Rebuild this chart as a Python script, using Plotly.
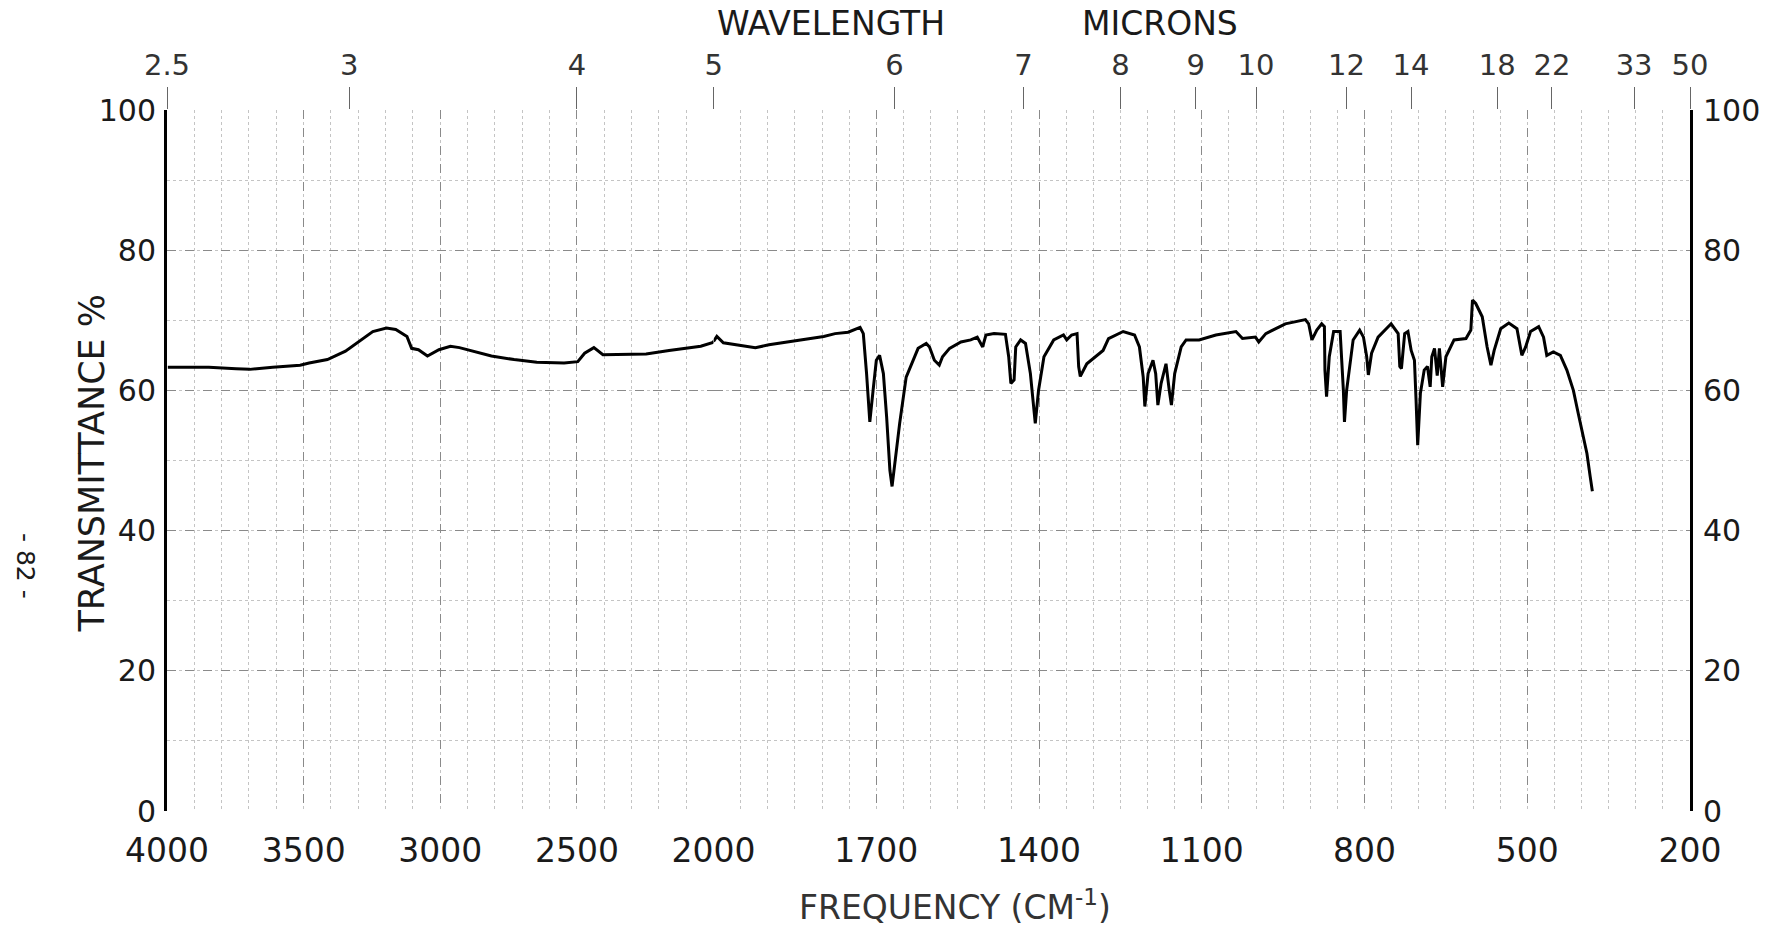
import plotly.graph_objects as go

# ---- data ----
wavenumber = [
    3997, 3847, 3747, 3697, 3613, 3513, 3480, 3413, 3347, 3297, 3247, 3197, 3163, 3122,
    3105, 3080, 3047, 3005, 2963, 2930, 2880, 2813, 2730, 2647, 2547, 2497, 2472, 2438,
    2405, 2330, 2247, 2163, 2047, 2005, 2000,
    1994, 1982, 1923, 1898, 1856, 1797, 1776, 1752, 1730, 1724, 1718, 1712, 1706, 1700,
    1694, 1687, 1681, 1675, 1671, 1666, 1657, 1645, 1632, 1623, 1608, 1602, 1593, 1584,
    1578, 1565, 1544, 1526, 1514, 1504, 1498, 1483, 1462, 1456, 1452, 1446, 1443, 1434,
    1425, 1416, 1407, 1401, 1391, 1373, 1355, 1349, 1340, 1330, 1327, 1324, 1312, 1294,
    1282, 1272, 1245, 1224, 1215, 1208, 1205, 1199, 1190, 1185, 1181, 1175, 1166, 1160,
    1156, 1150, 1138, 1129, 1105, 1074, 1037, 1025, 1001, 995, 982, 946, 909, 903,
    897, 888, 879, 874, 873, 870, 865, 857, 845, 839, 837, 833, 821, 809, 802, 796,
    793, 787, 775, 751, 738, 735, 732, 726, 720, 714, 708, 705, 702, 697, 690, 684,
    679, 676, 671, 666, 662, 656, 650, 635, 613, 604, 601, 595, 589, 583, 574, 567,
    561, 549, 534, 519, 510, 503, 494, 479, 470, 464, 452, 439, 427, 415, 406, 397,
    390, 384, 380,
]
transmittance = [
    63.3, 63.3, 63.1, 63.0, 63.3, 63.6, 63.9, 64.4, 65.6, 67.0, 68.4, 68.9, 68.7, 67.7,
    66.0, 65.8, 64.9, 65.8, 66.3, 66.1, 65.6, 64.9, 64.4, 64.0, 63.9, 64.1, 65.3, 66.1,
    65.1, 65.1, 65.2, 65.7, 66.3, 66.8, 67.0,
    67.7, 66.8, 66.1, 66.5, 67.0, 67.7, 68.1, 68.3, 69.0, 68.1, 62.4, 55.5, 60.0, 64.3,
    65.0, 62.4, 56.2, 48.6, 46.3, 49.6, 55.3, 61.9, 64.3, 66.0, 66.7, 66.2, 64.3, 63.6,
    64.8, 66.0, 66.9, 67.2, 67.6, 66.2, 67.9, 68.1, 68.0, 64.8, 61.0, 61.5, 66.2, 67.2,
    66.7, 62.4, 55.3, 60.0, 64.8, 67.2, 67.9, 67.2, 67.9, 68.1, 63.4, 62.0, 63.8, 65.0,
    65.7, 67.4, 68.4, 67.9, 66.2, 61.9, 57.7, 62.4, 64.3, 62.4, 57.9, 61.0, 63.8, 60.0,
    57.9, 62.4, 66.2, 67.2, 67.2, 67.9, 68.4, 67.4, 67.6, 66.9, 68.1, 69.5, 70.1, 69.5,
    67.2, 68.6, 69.5, 69.1, 62.9, 59.1, 64.8, 68.4, 68.4, 60.0, 55.5, 60.0, 67.2, 68.6,
    67.6, 64.8, 62.2, 65.3, 67.6, 69.5, 68.1, 63.4, 63.1, 68.1, 68.4, 65.7, 64.3, 58.6,
    52.2, 59.6, 62.9, 63.4, 60.5, 64.8, 66.0, 62.1, 66.0, 60.5, 64.8, 67.2, 67.4, 68.6,
    72.9, 72.4, 71.4, 70.5, 66.2, 63.6, 65.7, 68.8, 69.6, 68.8, 65.0, 66.2, 68.4, 69.1,
    67.6, 65.0, 65.5, 65.0, 62.9, 60.0, 56.7, 53.4, 51.0, 47.7, 45.6,
]

freq_ticks_left = [4000, 3500, 3000, 2500, 2000]
freq_ticks_right = [1700, 1400, 1100, 800, 500, 200]
micron_ticks_left = [2.5, 3, 4, 5]
micron_ticks_right = [6, 7, 8, 9, 10, 12, 14, 18, 22, 33, 50]
trans_ticks = [0, 20, 40, 60, 80, 100]

# ---- split at 2000 cm-1 (chart paper changes scale there) ----
left_x = [w for w in wavenumber if w >= 2000]
left_y = [t for w, t in zip(wavenumber, transmittance) if w >= 2000]
right_x = [w for w in wavenumber if w <= 2000]
right_y = [t for w, t in zip(wavenumber, transmittance) if w <= 2000]

FONT = "DejaVu Sans"
INK = "#1a1a1a"
SPLIT = 0.3589

fig = go.Figure()
line = dict(color="black", width=3)
fig.add_trace(go.Scatter(x=left_x, y=left_y, mode="lines", line=line,
                         xaxis="x", yaxis="y", showlegend=False))
fig.add_trace(go.Scatter(x=right_x, y=right_y, mode="lines", line=line,
                         xaxis="x2", yaxis="y", showlegend=False))
# transparent copies so the top wavelength axes and right-hand axis are drawn
ghost = dict(color="rgba(0,0,0,0)", width=0)
fig.add_trace(go.Scatter(x=left_x, y=left_y, mode="lines", line=ghost,
                         xaxis="x3", yaxis="y2", showlegend=False, hoverinfo="skip"))
fig.add_trace(go.Scatter(x=right_x, y=right_y, mode="lines", line=ghost,
                         xaxis="x4", yaxis="y2", showlegend=False, hoverinfo="skip"))

grid_major = dict(showgrid=True, gridcolor="#8a8a8a", gridwidth=1, griddash="dash")
xfont = dict(family=FONT, size=33, color=INK)
yfont = dict(family=FONT, size=30, color=INK)
topfont = dict(family=FONT, size=29, color="#333")

common_x = dict(zeroline=False, showline=False, ticks="", tickfont=xfont,
                ticklabelstandoff=17, **grid_major)
minor_x = dict(showgrid=True, gridcolor="#c4c4c4", gridwidth=1, griddash="dot")
top_common = dict(showgrid=False, zeroline=False, showline=False,
                  ticks="outside", ticklen=22, tickcolor="#666", tickwidth=1,
                  tickfont=topfont)

fig.update_layout(
    width=1772, height=931,
    margin=dict(l=167, r=71, t=110, b=120),
    paper_bgcolor="white", plot_bgcolor="white",
    xaxis=dict(domain=[0, SPLIT], range=[4000, 2000], anchor="y",
               tickvals=freq_ticks_left, ticktext=[str(v) for v in freq_ticks_left],
               minor=dict(dtick=100, **minor_x), **common_x),
    xaxis2=dict(domain=[SPLIT, 1], range=[2000, 200], anchor="y",
                tickvals=freq_ticks_right, ticktext=[str(v) for v in freq_ticks_right],
                minor=dict(dtick=50, **minor_x), **common_x),
    xaxis3=dict(overlaying="x", side="top", range=[4000, 2000], anchor="y2",
                tickvals=[10000 / m for m in micron_ticks_left],
                ticktext=[("%g" % m) for m in micron_ticks_left], **top_common),
    xaxis4=dict(overlaying="x2", side="top", range=[2000, 200], anchor="y2",
                tickvals=[10000 / m for m in micron_ticks_right],
                ticktext=[("%g" % m) for m in micron_ticks_right], **top_common),
    yaxis=dict(range=[0, 100], tickvals=trans_ticks, ticks="",
               tickfont=yfont, zeroline=False, ticklabelstandoff=2,
               showline=True, linecolor="black", linewidth=3,
               minor=dict(dtick=10, showgrid=True, gridcolor="#c4c4c4", griddash="dot"),
               **grid_major),
    yaxis2=dict(range=[0, 100], tickvals=trans_ticks, ticks="", overlaying="y",
                side="right", anchor="x2", tickfont=yfont, zeroline=False,
                ticklabelstandoff=4,
                showgrid=False, showline=True, linecolor="black", linewidth=3),
)

# annotations placed by pixel position, converted to paper coordinates
pw = 1772 - 167 - 71
ph = 931 - 110 - 120


def px(xp, yp):
    return (xp - 167) / pw, (931 - yp - 120) / ph


labels = [
    ("WAVELENGTH", 836, 23, 33, 0, INK),
    ("MICRONS", 1167, 23, 33, 0, INK),
    ("FREQUENCY (CM<sup>-1</sup>)", 961, 905, 33, 0, "#333"),
    ("TRANSMITTANCE %", 91, 463, 35, -90, INK),
    ("- 82 -", 25, 566, 25, 90, INK),
]
for text, xp, yp, size, ang, col in labels:
    ax, ay = px(xp, yp)
    fig.add_annotation(text=text, x=ax, y=ay, xref="paper", yref="paper",
                       xanchor="center", yanchor="middle", showarrow=False,
                       textangle=ang, font=dict(family=FONT, size=size, color=col))

fig.write_html("out.html")
